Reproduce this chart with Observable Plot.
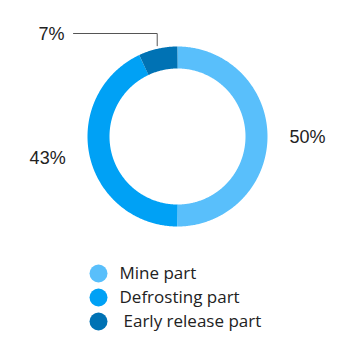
<!DOCTYPE html>
<html><head><meta charset="utf-8">
<script src="https://cdn.jsdelivr.net/npm/d3@7"></script>
<script src="https://cdn.jsdelivr.net/npm/@observablehq/plot@0.6"></script>
<style>body{margin:0;background:#fff;} svg{display:block;}</style>
</head><body><div id="chart"></div>
<script>
const categories = ["Mine part", "Defrosting part", "Early release part"];
const values = [50, 43, 7];
const labels = ["50%", "43%", "7%"];
const colors = ["#59BFFB", "#00A1F5", "#0072B4"];

const W = 362, H = 354;
const cx = 177, cy = 136, rOut = 90, rIn = 68;
const rMid = (rOut + rIn) / 2, thick = rOut - rIn;
const total = d3.sum(values);

let acc = 0;
const slices = values.map((v, i) => {
  const a0 = acc / total * 2 * Math.PI; acc += v;
  const a1 = acc / total * 2 * Math.PI;
  return {i, a0, a1, mid: (a0 + a1) / 2};
});
const arcPts = [];
slices.forEach(s => {
  const n = Math.max(4, Math.ceil((s.a1 - s.a0) / 0.01));
  for (let k = 0; k <= n; k++) {
    const a = s.a0 + (s.a1 - s.a0) * k / n;
    arcPts.push({cat: categories[s.i], x: cx + rMid * Math.sin(a), y: cy - rMid * Math.cos(a)});
  }
});

const labMid = slices.filter(s => s.i !== 2).map(s => {
  const r = 130;
  return {t: labels[s.i], x: cx + r * Math.sin(s.mid) + (s.i === 1 ? -3 : 0), y: cy - r * Math.cos(s.mid) + (s.i === 1 ? -7 : 1)};
});
const labEnd = [{t: labels[2], x: 64, y: 34}];
const ems = slices[2];
const lx = cx + 93 * Math.sin(ems.mid), ly = cy - 93 * Math.cos(ems.mid);
const leader = [{x: lx, y: ly}, {x: lx, y: 33}, {x: 73, y: 33}];

const legend = categories.map((c, i) => ({c, x: 98, y: 273 + i * 24, tx: i === 2 ? 123 : 119}));

const font = "Liberation Sans, Arial, sans-serif";
const plot = Plot.plot({
  width: W, height: H, margin: 0,
  x: {domain: [0, W], range: [0, W], axis: null},
  y: {domain: [0, H], range: [0, H], axis: null},
  color: {domain: categories, range: colors},
  style: {background: "#fff"},
  marks: [
    Plot.line(arcPts, {x: "x", y: "y", z: "cat", stroke: "cat", strokeWidth: thick, strokeLinecap: "butt", strokeLinejoin: "round"}),
    Plot.line(leader, {x: "x", y: "y", stroke: "#555", strokeWidth: 1}),
    Plot.text(labMid, {x: "x", y: "y", text: "t", textAnchor: "middle", fontSize: 18, fill: "#222", fontFamily: font}),
    Plot.text(labEnd, {x: "x", y: "y", text: "t", textAnchor: "end", fontSize: 18, fill: "#222", fontFamily: font}),
    Plot.dot(legend, {x: "x", y: "y", r: 9, fill: "c", stroke: null}),
    Plot.text(legend, {x: "tx", y: "y", text: "c", textAnchor: "start", fontSize: 17, fill: "#222", fontFamily: "Open Sans, sans-serif"})
  ]
});
document.getElementById("chart").appendChild(plot);
</script></body></html>
